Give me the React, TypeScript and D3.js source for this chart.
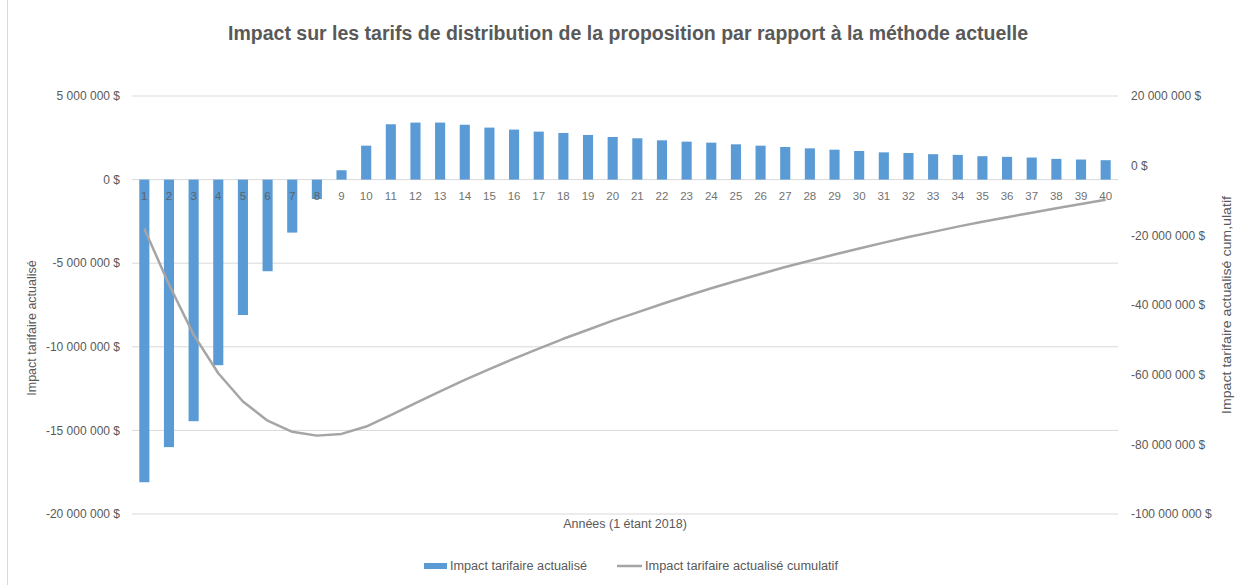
import React from "react";
import * as d3 from "d3";

const years: string[] = Array.from({ length: 40 }, (_, i) => String(i + 1));
// Impact tarifaire actualisé (millions $)
const impact: number[] = [
  -18.1, -16.0, -14.45, -11.1, -8.1, -5.48, -3.17, -1.16, 0.56, 2.03,
  3.31, 3.41, 3.41, 3.28, 3.11, 2.99, 2.87, 2.79, 2.67, 2.55,
  2.47, 2.35, 2.27, 2.21, 2.11, 2.03, 1.95, 1.87, 1.79, 1.71,
  1.63, 1.59, 1.52, 1.48, 1.40, 1.36, 1.32, 1.24, 1.20, 1.16,
];
// Impact tarifaire actualisé cumulatif (millions $)
const cumulative: number[] = [
  -18.1, -34.1, -48.5, -59.6, -67.7, -73.2, -76.4, -77.5, -77.0, -74.9,
  -71.6, -68.2, -64.8, -61.5, -58.4, -55.4, -52.5, -49.7, -47.1, -44.5,
  -42.1, -39.7, -37.4, -35.2, -33.1, -31.1, -29.1, -27.3, -25.5, -23.8,
  -22.1, -20.5, -19.0, -17.5, -16.1, -14.8, -13.5, -12.2, -11.0, -9.8,
];
const leftTicks: number[] = [5e6, 0, -5e6, -10e6, -15e6, -20e6];
const rightTicks: number[] = [20e6, 0, -20e6, -40e6, -60e6, -80e6, -100e6];

const W = 1244;
const H = 585;
const plot = { left: 132, right: 1118, top: 96, bottom: 514 };
const FONT = "'Liberation Sans', Arial, sans-serif";
const TXT = "#595959";

const locale = d3.formatLocale({
  decimal: ",",
  thousands: " ",
  grouping: [3],
  currency: ["", " $"],
  minus: "-",
});
const fmt = locale.format("$,.0f");

export default function App() {
  const x = d3
    .scaleBand<string>()
    .domain(years)
    .range([plot.left, plot.right])
    .paddingInner(0.59)
    .paddingOuter(0.295);
  const yL = d3.scaleLinear().domain([-20e6, 5e6]).range([plot.bottom, plot.top]);
  const yR = d3.scaleLinear().domain([-100e6, 20e6]).range([plot.bottom, plot.top]);
  const cx = (d: string) => (x(d) as number) + x.bandwidth() / 2;

  const line = d3
    .line<number>()
    .x((_, i) => cx(years[i]))
    .y((v) => yR(v * 1e6))
    .curve(d3.curveLinear);

  return (
    <svg
      width={W}
      height={H}
      style={{ position: "absolute", left: 0, top: 0, background: "#fff" }}
      fontFamily={FONT}
    >
      <rect x={0} y={0} width={W} height={H} fill="#fff" />
      <line x1={7.5} x2={7.5} y1={0} y2={H} stroke="#d9d9d9" />
      <text
        x={628}
        y={40}
        textAnchor="middle"
        fontSize={20}
        fontWeight="bold"
        fill={TXT}
        textLength={800}
        lengthAdjust="spacingAndGlyphs"
      >
        Impact sur les tarifs de distribution de la proposition par rapport à la méthode actuelle
      </text>

      {/* gridlines */}
      {leftTicks.map((t) => (
        <line
          key={"g" + t}
          x1={plot.left}
          x2={plot.right}
          y1={yL(t)}
          y2={yL(t)}
          stroke="#d9d9d9"
          strokeWidth={1}
        />
      ))}

      {/* left ticks */}
      {leftTicks.map((t) => (
        <text
          key={"l" + t}
          x={120}
          y={yL(t)}
          dy="0.35em"
          textAnchor="end"
          fontSize={12}
          fill={TXT}
        >
          {fmt(t)}
        </text>
      ))}
      {/* right ticks */}
      {rightTicks.map((t) => (
        <text
          key={"r" + t}
          x={1131}
          y={yR(t)}
          dy="0.35em"
          textAnchor="start"
          fontSize={12}
          fill={TXT}
        >
          {fmt(t)}
        </text>
      ))}

      {/* bars */}
      {impact.map((v, i) => {
        const y0 = yL(0);
        const y1 = yL(v * 1e6);
        return (
          <rect
            key={"b" + i}
            x={x(years[i])}
            y={Math.min(y0, y1)}
            width={x.bandwidth()}
            height={Math.abs(y1 - y0)}
            fill="#5B9BD5"
          />
        );
      })}

      {/* category labels */}
      {years.map((c) => (
        <text
          key={"c" + c}
          x={cx(c)}
          y={196}
          dy="0.35em"
          textAnchor="middle"
          fontSize={11.5}
          fill={TXT}
          opacity={0.85}
        >
          {c}
        </text>
      ))}

      {/* cumulative line */}
      <path d={line(cumulative) || ""} fill="none" stroke="#A5A5A5" strokeWidth={2.5} strokeLinejoin="round" />

      {/* axis titles */}
      <text
        transform={`translate(36,328) rotate(-90)`}
        textAnchor="middle"
        fontSize={12.5}
        fill={TXT}
      >
        Impact tarifaire actualisé
      </text>
      <text
        transform={`translate(1231,305) rotate(-90)`}
        textAnchor="middle"
        fontSize={12.5}
        fill={TXT}
        textLength={218}
        lengthAdjust="spacingAndGlyphs"
      >
        Impact tarifaire actualisé cum,ulatif
      </text>
      <text x={625} y={528} textAnchor="middle" fontSize={12.5} fill={TXT}>
        Années (1 étant 2018)
      </text>

      {/* legend */}
      <rect x={424} y={563} width={23} height={6} fill="#5B9BD5" />
      <text x={450} y={566} dy="0.35em" fontSize={12.5} fill={TXT} textLength={137} lengthAdjust="spacingAndGlyphs">
        Impact tarifaire actualisé
      </text>
      <line x1={617} x2={642} y1={566} y2={566} stroke="#A5A5A5" strokeWidth={2.5} />
      <text x={645} y={566} dy="0.35em" fontSize={12.5} fill={TXT} textLength={193} lengthAdjust="spacingAndGlyphs">
        Impact tarifaire actualisé cumulatif
      </text>
    </svg>
  );
}
